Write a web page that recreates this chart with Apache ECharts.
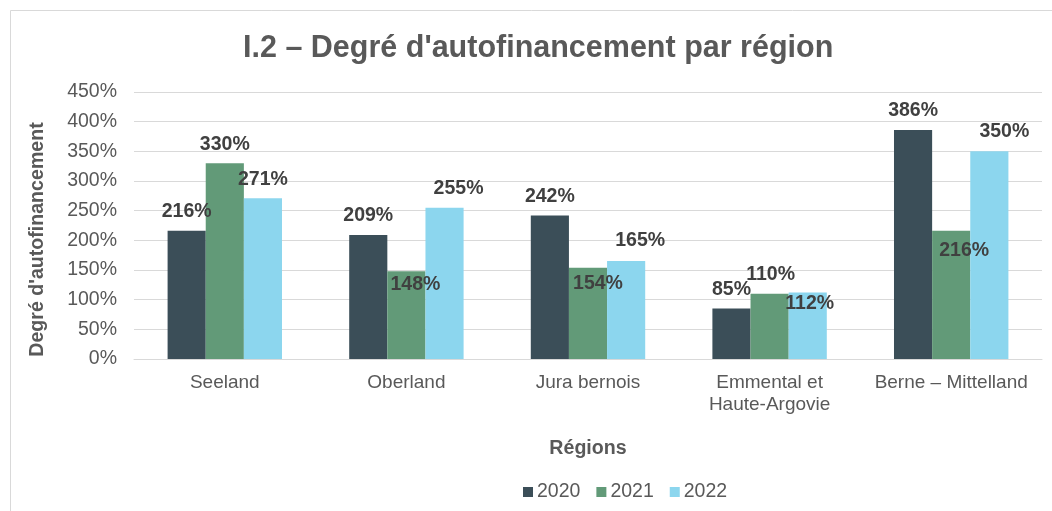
<!DOCTYPE html>
<html>
<head>
<meta charset="utf-8">
<script src="https://cdn.jsdelivr.net/npm/echarts@6/dist/echarts.min.js"></script>
<style>
  html, body { margin: 0; padding: 0; background: #fff; }
  #chart { width: 1052px; height: 511px; }
</style>
</head>
<body>
<div id="chart"></div>
<script>
const regions = ['Seeland', 'Oberland', 'Jura bernois', 'Emmental et\nHaute-Argovie', 'Berne – Mittelland']
const years = ['2020', '2021', '2022']
const v2020 = [216, 209, 242, 85, 386]
const v2021 = [330, 148, 154, 110, 216]
const v2022 = [271, 255, 165, 112, 350]
const yTicks = [0, 50, 100, 150, 200, 250, 300, 350, 400, 450]

// where Excel moved the data labels by hand
const shift2020 = [[0, 0], [0, 0], [0, 0], [0, 0], [0, 0]]
const shift2021 = [[0, 0], [9, 32], [10, 35], [1, 0], [13, 39]]
const shift2022 = [[0, 0], [14, 0], [14, -1], [2, 30], [15, -1]]

const colors = ['#3b4e58', '#629a78', '#8cd6ee']
const textFont = 'Liberation Sans, Arial, sans-serif'

function withLabels (vals, shifts) {
  return vals.map((v, i) => ({ value: v, label: { offset: shifts[i] } }))
}

function barSeries (name, vals, shifts, color) {
  return {
    name: name,
    type: 'bar',
    barGap: '0%',
    barCategoryGap: '37%',
    itemStyle: { color: color },
    label: {
      show: true,
      position: 'top',
      distance: 9,
      formatter: '{c}%',
      color: '#404040',
      fontWeight: 'bold',
      fontSize: 19.5,
      fontFamily: textFont
    },
    data: withLabels(vals, shifts)
  }
}

const myChart = echarts.init(document.getElementById('chart'), null, { renderer: 'canvas' })
const option = {
  backgroundColor: '#fff',
  animation: false,
  color: colors,
  textStyle: { fontFamily: textFont },
  graphic: [{
    type: 'rect',
    shape: { x: 10.5, y: 10.5, width: 1100, height: 600 },
    style: { fill: 'none', stroke: '#d9d9d9', lineWidth: 1 },
    silent: true
  }],
  title: {
    text: 'I.2 – Degré d\'autofinancement par région',
    left: 243,
    top: 33,
    padding: 0,
    textStyle: {
      color: '#595959',
      fontSize: 30.5,
      fontWeight: 'bold',
      fontFamily: textFont
    }
  },
  legend: {
    data: years,
    left: 523,
    top: 482,
    padding: 0,
    icon: 'rect',
    itemWidth: 10,
    itemHeight: 10,
    itemGap: 16,
    textStyle: { color: '#595959', fontSize: 19.5, fontFamily: textFont, padding: [0, 0, 0, -1] }
  },
  grid: {
    left: 134,
    right: 10,
    top: 92,
    bottom: 152
  },
  xAxis: {
    type: 'category',
    data: regions,
    name: 'Régions',
    nameLocation: 'middle',
    nameGap: 80,
    nameTextStyle: { color: '#595959', fontSize: 19.6, fontWeight: 'bold', fontFamily: textFont },
    axisLine: { lineStyle: { color: '#d9d9d9', width: 1 } },
    axisTick: { show: false },
    axisLabel: {
      color: '#595959',
      fontSize: 19,
      margin: 13,
      lineHeight: 22,
      interval: 0,
      fontFamily: textFont
    }
  },
  yAxis: {
    type: 'value',
    min: yTicks[0],
    max: yTicks[yTicks.length - 1],
    interval: 50,
    name: 'Degré d\'autofinancement',
    nameLocation: 'middle',
    nameGap: 86,
    nameTextStyle: { color: '#595959', fontSize: 19.6, fontWeight: 'bold', fontFamily: textFont, padding: [0, 28, 0, 0] },
    axisLine: { show: false },
    axisTick: { show: false },
    splitLine: { lineStyle: { color: '#d9d9d9', width: 1 } },
    axisLabel: {
      color: '#595959',
      fontSize: 19.5,
      margin: 17,
      formatter: '{value}%',
      fontFamily: textFont
    }
  },
  series: [
    barSeries(years[0], v2020, shift2020, colors[0]),
    barSeries(years[1], v2021, shift2021, colors[1]),
    barSeries(years[2], v2022, shift2022, colors[2])
  ]
}
myChart.setOption(option)
</script>
</body>
</html>
